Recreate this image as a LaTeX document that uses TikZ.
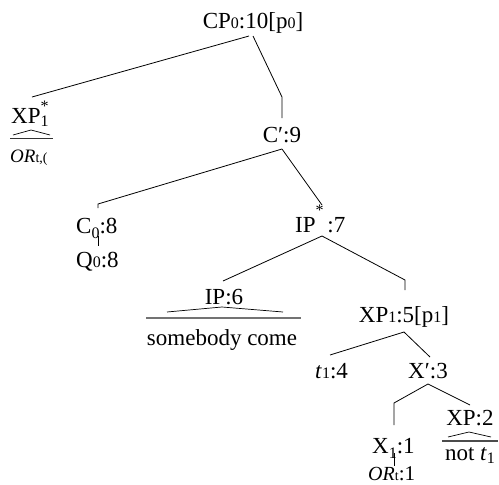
\documentclass[tikz,border=0pt]{standalone}
\usepackage{fontspec}
\setmainfont{Liberation Serif}
\newcommand\sdig[1]{{\fontsize{16}{16}\selectfont #1}}
\newcommand\lowsub[1]{\raisebox{-5pt}{\sdig{#1}}}
\newcommand\smallt[1]{{\fontsize{14}{14}\selectfont #1}}
\begin{document}
\begin{tikzpicture}[x=1pt,y=-1pt,
  lbl/.style={anchor=base,inner sep=0pt,font=\fontsize{23}{27}\selectfont},
  lblw/.style={lbl,anchor=base west},
  edge/.style={line width=0.8pt,line join=miter},
  bar/.style={line width=1.6pt,draw=black!55},
  hatline/.style={line width=0.7pt}]
\useasboundingbox (0,0) rectangle (499,485);
% text nodes
\node[lbl] (cp) at (253,28) {CP\sdig{0}:10[p\sdig{0}]};
\node[lblw] (xps) at (11,123) {XP\rlap{\raisebox{-3pt}{\sdig{1}}}\raisebox{12pt}{\sdig{*}}};
\node[lblw,font=\fontsize{19}{19}\selectfont] (or1) at (10,162) {\textit{OR}\smallt{t,(}};
\node[lbl] (cb) at (282,142) {C′:9};
\node[lblw] (c0) at (76,233) {C\lowsub{0}:8};
\node[lblw] (q0) at (76,267) {Q\sdig{0}:8};
\node[lblw] (ips) at (295,232) {IP\raisebox{17pt}{\sdig{*}}\,:7};
\node[lbl] (ip6) at (224,304) {IP:6};
\node[lbl] (sc) at (222,345) {somebody come};
\node[lbl] (xp1) at (404,322) {XP\sdig{1}:5[p\sdig{1}]};
\node[lblw] (t14) at (315,378) {\textit{t}\sdig{1}:4};
\node[lbl] (xb) at (428,378) {X′:3};
\node[lbl] (xp2) at (470,425) {XP:2};
\node[lbl] (nt) at (470,460) {not \textit{t}\raisebox{-3pt}{\sdig{1}}};
\node[lblw] (x1) at (372,453) {X\lowsub{1}:1};
\node[lblw,font=\fontsize{21}{21}\selectfont] (ort) at (368,480) {{\fontsize{20}{20}\selectfont\textit{OR}}\smallt{t}:1};
% attachment points
\coordinate (cp-sl) at (249,36);
\coordinate (cp-sr) at (253,36);
\coordinate (xps-n) at (32,97);
\coordinate (cb-k) at (282,97);
\coordinate (cb-n) at (282,118);
\coordinate (cb-s) at (282,149);
\coordinate (c0-k) at (98,204);
\coordinate (c0-n) at (98,208);
\coordinate (c0-s) at (98,236);
\coordinate (q0-n) at (98,246);
\coordinate (ips-n) at (322,205);
\coordinate (ips-s) at (322,236);
\coordinate (ip6-n) at (223,281);
\coordinate (xp1-k) at (405,280);
\coordinate (xp1-n) at (405,290);
\coordinate (xp1-s) at (404,332);
\coordinate (t14-n) at (330,355);
\coordinate (xb-n) at (430,357);
\coordinate (xb-s) at (428,384);
\coordinate (x1-k) at (394,403);
\coordinate (x1-n) at (394,425);
\coordinate (xp2-n) at (470,405);
\coordinate (x1-s) at (394,453);
\coordinate (ort-n) at (394,466);
% connectors
\draw[edge] (cp-sl) -- (xps-n);
\draw[edge] (cp-sr) -- (cb-k) -- (cb-n);
\draw[edge] (cb-s) -- (c0-k) -- (c0-n);
\draw[edge] (cb-s) -- (ips-n);
\draw[edge] (c0-s) -- (q0-n);
\draw[edge] (ips-s) -- (ip6-n);
\draw[edge] (ips-s) -- (xp1-k) -- (xp1-n);
\draw[edge] (xp1-s) -- (t14-n);
\draw[edge] (xp1-s) -- (xb-n);
\draw[edge] (xb-s) -- (x1-k) -- (x1-n);
\draw[edge] (xb-s) -- (xp2-n);
\draw[edge] (x1-s) -- (ort-n);
% roof triangles
\coordinate (h1a) at (31,130); \coordinate (h1l) at (13,135); \coordinate (h1r) at (50,135);
\coordinate (b1l) at (10,138); \coordinate (b1r) at (53,138);
\draw[hatline] (h1l) -- (h1a) -- (h1r);
\draw[bar,line width=1pt,draw=black!80] (b1l) -- (b1r);
\coordinate (h2a) at (222,307); \coordinate (h2l) at (167,312); \coordinate (h2r) at (283,312);
\coordinate (b2l) at (146,318); \coordinate (b2r) at (301,318);
\draw[hatline] (h2l) -- (h2a) -- (h2r);
\draw[bar] (b2l) -- (b2r);
\coordinate (h3a) at (469,432); \coordinate (h3l) at (448,437); \coordinate (h3r) at (491,437);
\coordinate (b3l) at (442,441); \coordinate (b3r) at (498,441);
\draw[hatline] (h3l) -- (h3a) -- (h3r);
\draw[bar,line width=1.2pt,draw=black!70] (b3l) -- (b3r);
\end{tikzpicture}
\end{document}
